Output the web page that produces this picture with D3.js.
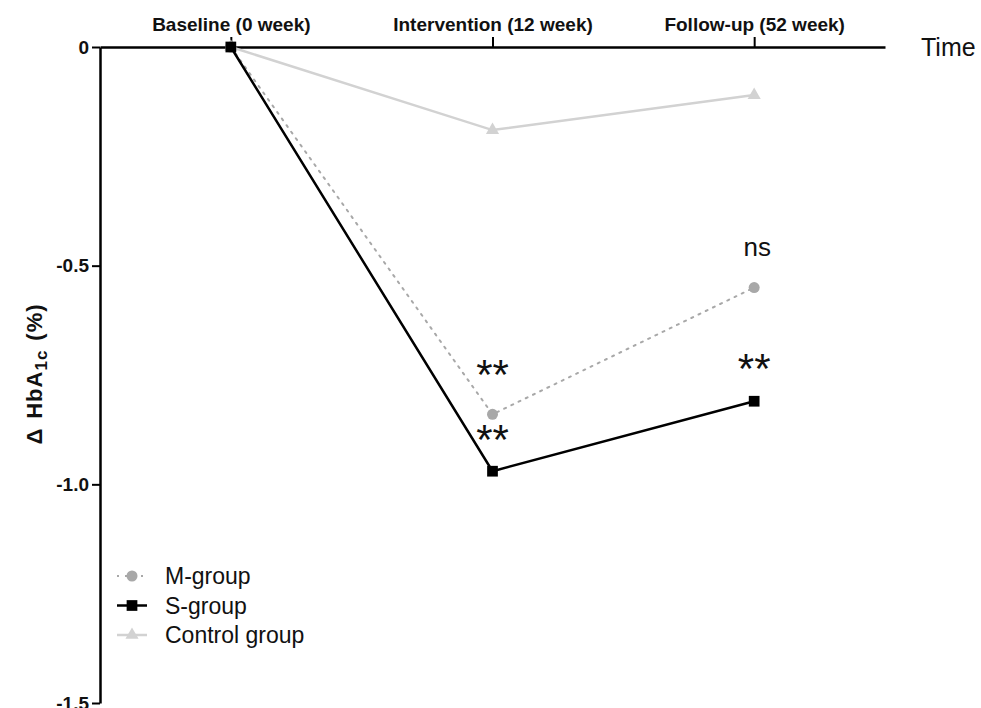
<!DOCTYPE html>
<html>
<head>
<meta charset="utf-8">
<script src="https://cdn.jsdelivr.net/npm/d3@7"></script>
<style>
  body { margin: 0; background: #fff; }
  text { font-family: "Liberation Sans", Arial, sans-serif; }
</style>
</head>
<body>
<div id="chart"></div>
<script>
var timepoints = ["Baseline (0 week)", "Intervention (12 week)", "Follow-up (52 week)"];
var mGroup = [0, -0.84, -0.55];
var sGroup = [0, -0.97, -0.81];
var controlGroup = [0, -0.19, -0.11];
var yTicks = [0, -0.5, -1.0, -1.5];
var seriesNames = ["M-group", "S-group", "Control group"];
// significance marks: [timepoint index, value, label]
var marks = [[1, -0.782, "**"], [1, -0.93, "**"], [2, -0.768, "**"], [2, -0.478, "ns"]];

var w = 981, h = 708;
var svg = d3.select("#chart").append("svg").attr("width", w).attr("height", h);

var x = d3.scalePoint().domain(timepoints).range([100, 885]).padding(0.5);
var y = d3.scaleLinear().domain([0, -1.5]).range([47, 703]);

// x axis on top, at y = 0
var xAxis = svg.append("g").attr("transform", "translate(0," + y(0) + ")")
  .call(d3.axisTop(x).tickSize(10).tickSizeOuter(0).tickPadding(6));
xAxis.attr("font-family", null).attr("font-size", null);
xAxis.select(".domain").attr("stroke", "#000").attr("stroke-width", 2.5);
xAxis.selectAll(".tick line").attr("stroke", "#000").attr("stroke-width", 2);
xAxis.selectAll("text").style("font-size", "19px").style("font-weight", "bold").attr("fill", "#111");

svg.append("text").attr("x", 921).attr("y", y(0) + 9).style("font-size", "25px")
  .attr("fill", "#111").text("Time");

// y axis
var yAxis = svg.append("g").attr("transform", "translate(100,0)")
  .call(d3.axisLeft(y).tickValues(yTicks).tickSize(8).tickSizeOuter(0).tickPadding(3)
    .tickFormat(function(d){ return d === 0 ? "0" : d3.format(".1f")(d).replace("\u2212", "-"); }));
yAxis.attr("font-family", null).attr("font-size", null);
yAxis.select(".domain").attr("stroke", "#000").attr("stroke-width", 2.5);
yAxis.selectAll(".tick line").attr("stroke", "#000").attr("stroke-width", 2);
yAxis.selectAll("text").style("font-size", "19px").style("font-weight", "bold").attr("fill", "#111");

// y title, spaced out like the original
var yTitle = svg.append("text").attr("transform", "translate(42,374) rotate(-90)")
  .attr("text-anchor", "middle").style("font-size", "22px").style("font-weight", "bold")
  .style("letter-spacing", "1px").attr("fill", "#111");
yTitle.append("tspan").text("\u0394");
yTitle.append("tspan").attr("dx", 9).text("HbA");
yTitle.append("tspan").style("font-size", "17px").attr("dy", 5).text("1c");
yTitle.append("tspan").attr("dy", -5).attr("dx", 9).text("(%)");

var line = d3.line().x(function(d, i){ return x(timepoints[i]); }).y(function(d){ return y(d); });

var styles = [
  { data: mGroup, color: "#a8a8a8", width: 2, dash: "2,6", sym: d3.symbolCircle, size: 95 },
  { data: sGroup, color: "#000000", width: 2.5, dash: null, sym: d3.symbolSquare, size: 115 },
  { data: controlGroup, color: "#d2d2d2", width: 2.5, dash: null, sym: d3.symbolTriangle, size: 75 }
];

// draw back to front: control, M, S
[2, 0, 1].forEach(function(k){
  var s = styles[k];
  svg.append("path").datum(s.data).attr("d", line).attr("fill", "none")
    .attr("stroke", s.color).attr("stroke-width", s.width)
    .attr("stroke-dasharray", s.dash).attr("stroke-linecap", "round");
  svg.selectAll(".pt" + k).data(s.data).enter().append("path")
    .attr("class", "pt" + k)
    .attr("transform", function(d, i){ return "translate(" + x(timepoints[i]) + "," + y(d) + ")"; })
    .attr("d", d3.symbol().type(s.sym).size(s.size)).attr("fill", s.color);
});

// significance labels
svg.selectAll(".sig").data(marks).enter().append("text").attr("class", "sig")
  .attr("x", function(d){ return x(timepoints[d[0]]) + (d[2] === "ns" ? 3 : 0); })
  .attr("y", function(d){ return y(d[1]); })
  .attr("text-anchor", "middle")
  .style("font-size", function(d){ return d[2] === "ns" ? "26px" : "42px"; })
  .attr("fill", "#111")
  .text(function(d){ return d[2]; });

// legend
var legend = svg.append("g");
seriesNames.forEach(function(name, i){
  var s = styles[i];
  var ly = 576 + i * 29.5;
  legend.append("line").attr("x1", 117).attr("x2", 147).attr("y1", ly).attr("y2", ly)
    .attr("stroke", s.color).attr("stroke-width", s.width).attr("stroke-dasharray", s.dash);
  legend.append("path").attr("transform", "translate(132," + ly + ")")
    .attr("d", d3.symbol().type(s.sym).size(s.size)).attr("fill", s.color);
  legend.append("text").attr("x", 165).attr("y", ly + 8).style("font-size", "23px")
    .attr("fill", "#111").text(name);
});
</script>
</body>
</html>
